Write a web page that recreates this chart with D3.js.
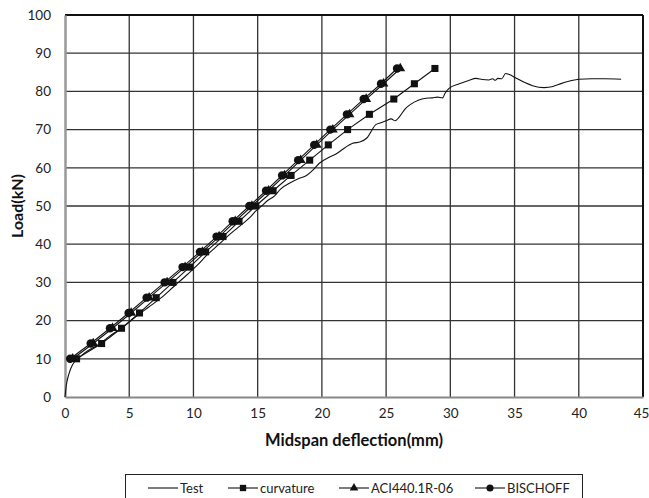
<!DOCTYPE html>
<html>
<head>
<meta charset="utf-8">
<script src="https://cdn.jsdelivr.net/npm/d3@7"></script>
<style>
  body { margin: 0; background: #fff; }
  text { font-family: Lato, "Open Sans", sans-serif; }
</style>
</head>
<body>
<div id="chart"></div>
<script>
// Data
const loads = [10, 14, 18, 22, 26, 30, 34, 38, 42, 46, 50, 54, 58, 62, 66, 70, 74, 78, 82, 86];
const curvature = [0.9, 2.85, 4.4, 5.8, 7.1, 8.4, 9.7, 10.95, 12.3, 13.55, 14.85, 16.2, 17.6, 19.05, 20.5, 22.0, 23.7, 25.6, 27.2, 28.8];
const aci = [0.6, 2.2, 3.7, 5.15, 6.55, 7.95, 9.35, 10.7, 12.0, 13.25, 14.55, 15.85, 17.1, 18.35, 19.6, 20.85, 22.15, 23.45, 24.8, 26.1];
const bischoff = [0.4, 2.0, 3.5, 4.95, 6.35, 7.75, 9.15, 10.5, 11.8, 13.05, 14.35, 15.65, 16.9, 18.15, 19.4, 20.65, 21.95, 23.25, 24.6, 25.85];

const testDefl = [0, 0.1, 0.3, 0.6, 1, 1.5, 2.5, 3.5, 4.6, 5.5, 6.5, 7.5, 8.5, 9.5, 10.3, 11, 12, 12.8, 13.7, 14.4, 14.8, 15.3, 15.8, 16.3, 16.8, 17.5, 18.2, 18.8, 19.3, 19.8, 20.6, 21.1, 21.6, 22.4, 23, 23.5, 24.2, 24.6, 25, 25.4, 25.7, 26, 26.5, 26.9, 27.5, 28.1, 28.6, 29, 29.4, 29.6, 29.9, 30.7, 31.4, 32, 32.5, 33, 33.3, 33.5, 33.7, 34, 34.3, 34.6, 35.1, 35.8, 36.4, 37.3, 38, 38.5, 39.3, 40, 41, 42, 43.3];
const testLoad = [0, 3, 6, 8.5, 10, 11.5, 13.5, 16, 18.5, 21, 23.5, 26, 29, 32, 34.5, 37, 40, 42.5, 45, 47, 48.5, 50, 51.5, 52.6, 54.5, 56, 57.2, 58, 59.4, 61.2, 62.8, 63.6, 64.8, 66.4, 66.8, 67.8, 71.3, 71.8, 72.3, 72.8, 72.3, 73.2, 75.5, 76.6, 77.7, 78.2, 78.3, 78.5, 78.3, 79.6, 80.8, 82, 82.8, 83.4, 83.1, 83, 83.3, 82.9, 83.4, 83.3, 84.7, 84.4, 83.5, 82.3, 81.5, 81, 81.3, 81.9, 82.7, 83.2, 83.3, 83.3, 83.2];

const xTicks = [0, 5, 10, 15, 20, 25, 30, 35, 40, 45];
const yTicks = [0, 10, 20, 30, 40, 50, 60, 70, 80, 90, 100];

const width = 649, height = 498;
const marginTop = 15, marginRight = 6, marginBottom = 101, marginLeft = 65;

const x = d3.scaleLinear([0, 45], [marginLeft, width - marginRight]);
const y = d3.scaleLinear([0, 100], [height - marginBottom, marginTop]);

const svg = d3.create("svg")
  .attr("width", width)
  .attr("height", height)
  .attr("viewBox", [0, 0, width, height]);

d3.select("#chart").append(() => svg.node());

// Grid lines
svg.append("g")
  .selectAll("line")
  .data(xTicks.slice(1, -1))
  .join("line")
  .attr("x1", d => x(d)).attr("x2", d => x(d))
  .attr("y1", y(0)).attr("y2", y(100))
  .attr("stroke", "#333").attr("stroke-width", 1.3);

svg.append("g")
  .selectAll("line")
  .data(yTicks.slice(1, -1))
  .join("line")
  .attr("x1", x(0)).attr("x2", x(45))
  .attr("y1", d => y(d)).attr("y2", d => y(d))
  .attr("stroke", "#333").attr("stroke-width", 1.3);

// Frame: top/right black, left/bottom grey axes
svg.append("line")
  .attr("x1", x(0)).attr("x2", x(45)).attr("y1", y(100)).attr("y2", y(100))
  .attr("stroke", "#111").attr("stroke-width", 2);
svg.append("line")
  .attr("x1", x(45)).attr("x2", x(45)).attr("y1", y(100)).attr("y2", y(0))
  .attr("stroke", "#111").attr("stroke-width", 2);

// Axes
svg.append("g")
  .attr("transform", `translate(0,${y(0)})`)
  .call(d3.axisBottom(x).tickValues(xTicks).tickSize(0).tickPadding(11))
  .call(g => g.select(".domain").attr("stroke", "#888").attr("stroke-width", 2.2))
  .call(g => g.selectAll("text").attr("font-size", 13.5).attr("fill", "#222"))
  .call(g => g.selectAll(".tick:last-of-type text").attr("dx", -2));

svg.append("g")
  .attr("transform", `translate(${marginLeft},0)`)
  .call(d3.axisLeft(y).tickValues(yTicks).tickSize(0).tickPadding(14))
  .call(g => g.select(".domain").attr("stroke", "#999").attr("stroke-width", 2.5))
  .call(g => g.selectAll("text").attr("font-size", 13.5).attr("fill", "#222"));

// Axis titles
svg.append("text")
  .attr("x", 354).attr("y", 446)
  .attr("text-anchor", "middle")
  .attr("font-size", 16.5).attr("font-weight", "bold").attr("fill", "#111")
  .text("Midspan deflection(mm)");

svg.append("text")
  .attr("transform", `translate(23,206) rotate(-90)`)
  .attr("text-anchor", "middle")
  .attr("font-size", 16).attr("font-weight", "bold").attr("fill", "#111")
  .text("Load(kN)");

// Series
const line = d3.line().x(d => x(d[0])).y(d => y(d[1]));

const testData = d3.zip(testDefl, testLoad);
svg.append("path")
  .attr("fill", "none").attr("stroke", "#111").attr("stroke-width", 1.1)
  .attr("d", line.curve(d3.curveMonotoneX)(testData));

line.curve(d3.curveLinear);

const series = [
  {name: "curvature", vals: curvature, sym: d3.symbolSquare, size: 50},
  {name: "ACI440.1R-06", vals: aci, sym: d3.symbolTriangle, size: 42},
  {name: "BISCHOFF", vals: bischoff, sym: d3.symbolCircle, size: 55}
];

series.forEach(s => {
  const pts = d3.zip(s.vals, loads);
  svg.append("path")
    .attr("fill", "none").attr("stroke", "#111").attr("stroke-width", 1.1)
    .attr("d", line(pts));
  svg.append("g")
    .selectAll("path")
    .data(pts)
    .join("path")
    .attr("transform", d => `translate(${x(d[0])},${y(d[1])})`)
    .attr("d", d3.symbol(s.sym, s.size))
    .attr("fill", "#111");
});

// Legend
const lg = svg.append("g");
lg.append("rect")
  .attr("x", 125.5).attr("y", 474.5).attr("width", 457).attr("height", 40)
  .attr("fill", "#fff").attr("stroke", "#222").attr("stroke-width", 1);

const legendItems = [
  {name: "Test", x0: 148, sym: null},
  {name: "curvature", x0: 228, sym: d3.symbolSquare, size: 40},
  {name: "ACI440.1R-06", x0: 339, sym: d3.symbolTriangle, size: 32},
  {name: "BISCHOFF", x0: 475, sym: d3.symbolCircle, size: 40}
];
const ly = 488;
legendItems.forEach(it => {
  lg.append("line")
    .attr("x1", it.x0).attr("x2", it.x0 + 30).attr("y1", ly).attr("y2", ly)
    .attr("stroke", "#111").attr("stroke-width", 1.1);
  if (it.sym) {
    lg.append("path")
      .attr("transform", `translate(${it.x0 + 15},${ly})`)
      .attr("d", d3.symbol(it.sym, it.size))
      .attr("fill", "#111");
  }
  lg.append("text")
    .attr("x", it.x0 + 32).attr("y", ly).attr("dy", "0.35em")
    .attr("font-size", 13).attr("fill", "#222")
    .text(it.name);
});
</script>
</body>
</html>
